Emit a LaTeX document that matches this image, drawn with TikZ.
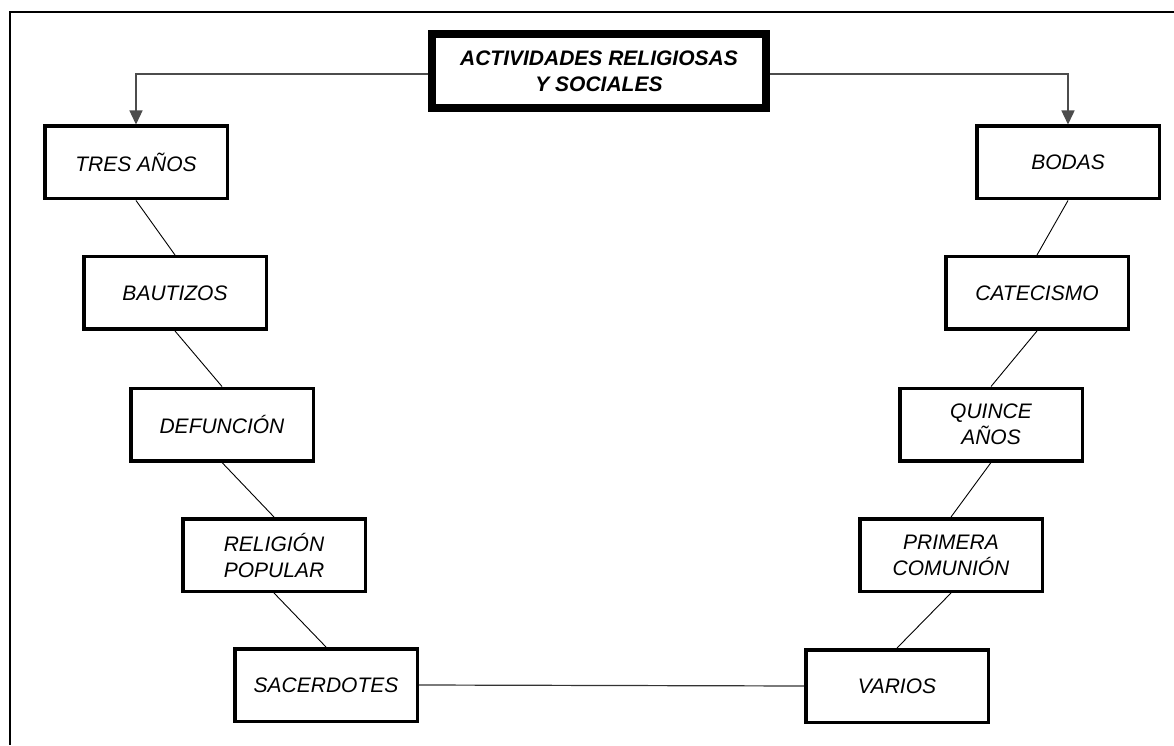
\documentclass[tikz,border=0pt]{standalone}
\usepackage{fontspec}
\setmainfont{Liberation Sans}
\usetikzlibrary{arrows.meta}
\begin{document}
\begin{tikzpicture}[x=1pt,y=1pt,
  box/.style={draw=black, line width=3.5pt, fill=white, minimum width=182.5pt, minimum height=72.5pt,
    inner sep=0pt, align=center, font=\fontsize{21}{26}\selectfont\itshape},
  titlebox/.style={draw=black, line width=7.5pt, fill=white, minimum width=334pt, minimum height=74pt,
    inner sep=0pt, align=center, font=\fontsize{21}{26}\selectfont\bfseries\itshape},
  link/.style={draw=black, line width=0.9pt},
  toplink/.style={draw=black!70, line width=1.4pt, -{Triangle[width=13pt,length=14pt]}},
  frame/.style={draw=black, line width=2.8pt}
]
\useasboundingbox (0,0) rectangle (1174,745);
% frame (top and left sides)
\coordinate (fTL) at (10,733);
\coordinate (fTR) at (1174,733);
\coordinate (fBL) at (10,0);
\draw[frame] (fTR) -- (fTL) -- (fBL);

\node[titlebox] (title) at (599,674) {ACTIVIDADES RELIGIOSAS\\Y SOCIALES};

\node[box] (tres) at (136,582.5) {TRES AÑOS};
\node[box] (baut) at (175,452) {BAUTIZOS};
\node[box] (defu) at (222,320.5) {DEFUNCIÓN};
\node[box] (reli) at (274,190) {RELIGIÓN\\POPULAR};
\node[box] (sace) at (326,60) {SACERDOTES};

\node[box] (boda) at (1068,582.5) {BODAS};
\node[box] (cate) at (1037,452) {CATECISMO};
\node[box] (quin) at (991,320.5) {QUINCE\\AÑOS};
\node[box] (prim) at (951,190) {PRIMERA\\COMUNIÓN};
\node[box] (vari) at (897,59) {VARIOS};

\draw[toplink] ([yshift=-3pt]title.west) -| (tres.north);
\draw[toplink] ([yshift=-3pt]title.east) -| (boda.north);

\draw[link] (tres.south) -- (baut.north);
\draw[link] (baut.south) -- (defu.north);
\draw[link] (defu.south) -- (reli.north);
\draw[link] (reli.south) -- (sace.north);

\draw[link] (boda.south) -- (cate.north);
\draw[link] (cate.south) -- (quin.north);
\draw[link] (quin.south) -- (prim.north);
\draw[link] (prim.south) -- (vari.north);

\draw[link, draw=black!80, line width=1.2pt] (sace.east) -- (vari.west);
\end{tikzpicture}
\end{document}
